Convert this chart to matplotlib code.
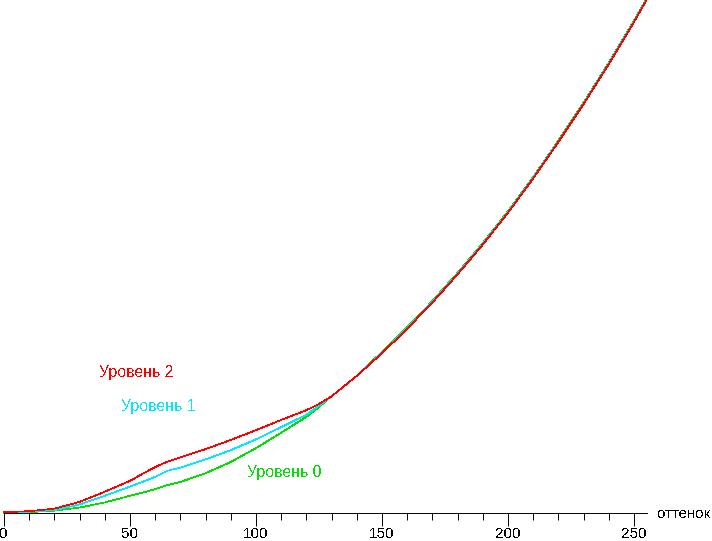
import matplotlib
matplotlib.use("Agg")
import matplotlib.pyplot as plt
from matplotlib.ticker import MultipleLocator

plt.rcParams['font.family'] = ['Liberation Sans', 'DejaVu Sans']
plt.rcParams['text.antialiased'] = False

# shade levels (x) and relative luminance (fraction of max)
x_low = [0, 10, 20, 30, 40, 50, 55, 60, 65, 70, 80, 90, 100, 110, 120, 125]
level2 = [0.001, 0.003, 0.008, 0.021, 0.041, 0.062, 0.076, 0.089, 0.100, 0.108,
          0.124, 0.142, 0.161, 0.181, 0.200, 0.212]
level1 = [0.001, 0.002, 0.005, 0.016, 0.033, 0.051, 0.060, 0.070, 0.082, 0.088,
          0.104, 0.122, 0.143, 0.167, 0.191, 0.209]
level0 = [0.000, 0.001, 0.004, 0.010, 0.020, 0.033, 0.039, 0.046, 0.054, 0.060,
          0.077, 0.099, 0.126, 0.156, 0.187, 0.206]

x_high = [130, 140, 150, 160, 170, 180, 190, 200, 210, 220, 230, 240, 250, 255]
common = [0.227, 0.267, 0.311, 0.359, 0.410, 0.465, 0.523, 0.585, 0.652, 0.723,
          0.797, 0.875, 0.957, 1.000]

series = [
    ("Уровень 0", level0, "#00E000", 0.003),
    ("Уровень 1", level1, "#00E8FF", 0.0015),
    ("Уровень 2", level2, "#FF0000", 0.0),
]

fig = plt.figure(figsize=(7.12, 5.41), dpi=100)
ax = fig.add_axes([4 / 712, (541 - 512.7) / 541, 642.6 / 712, 512.7 / 541])

for name, vals, color, shift in series:
    xs = x_low + x_high
    ys = vals + [v + shift * (v > 0.3) for v in common]
    ax.plot(xs, ys, color=color, lw=0.5, antialiased=False, clip_on=False)

ax.set_xlim(0, 255)
ax.set_ylim(0, 1.0)
for s in ['top', 'right', 'left']:
    ax.spines[s].set_visible(False)
ax.spines['bottom'].set_linewidth(0.7)
ax.set_yticks([])
ax.xaxis.set_major_locator(MultipleLocator(50))
ax.xaxis.set_minor_locator(MultipleLocator(10))
ax.tick_params(axis='x', which='major', length=9, width=0.7, pad=1, labelsize=11)
ax.tick_params(axis='x', which='minor', length=5, width=0.7)

fig.text(657 / 712, 1 - 514 / 541, "оттенок", ha='left', va='center', fontsize=10.8)
fig.text(99 / 712, 1 - 372 / 541, "Уровень 2", color="#FF0000", ha='left', va='center', fontsize=11.4)
fig.text(120.5 / 712, 1 - 406.5 / 541, "Уровень 1", color="#00E8FF", ha='left', va='center', fontsize=11.4)
fig.text(247 / 712, 1 - 472 / 541, "Уровень 0", color="#00E000", ha='left', va='center', fontsize=11.4)

fig.savefig("out.png", dpi=100)
